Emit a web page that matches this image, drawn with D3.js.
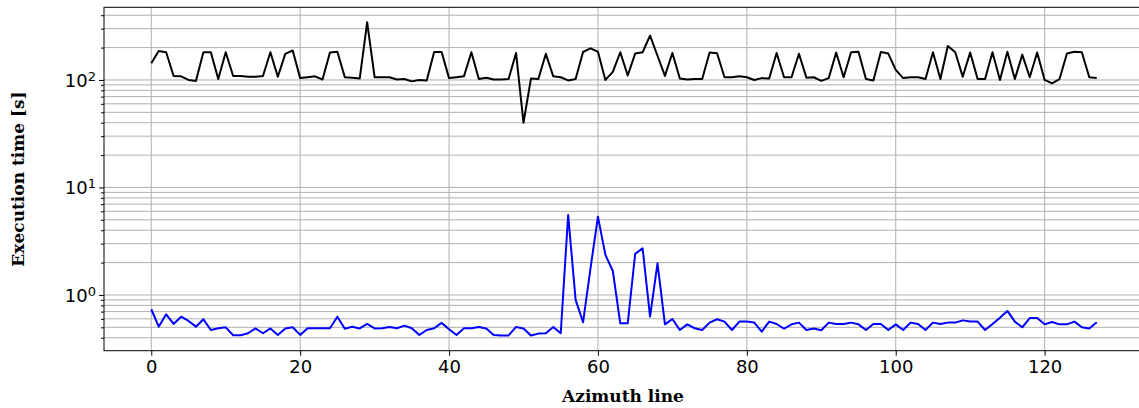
<!DOCTYPE html>
<html>
<head>
<meta charset="utf-8">
<script src="https://cdn.jsdelivr.net/npm/d3@7"></script>
<style>
    body { margin: 0; background: #fff; }
    svg { display: block; }
    .tick text { font-family: "DejaVu Sans", sans-serif; }
</style>
</head>
<body>
<svg id="chart" width="1139" height="408"></svg>
<script>
// Azimuth line index 0..127
var azimuth = d3.range(0, 128);

// execution time, slow run (black)
var timeSlow = [
    143, 186, 181, 109, 108, 100, 98, 181, 181, 102,
    181, 109, 109, 107, 107, 109, 181, 107, 175, 188,
    104, 106, 108, 101, 180, 183, 106, 105, 103, 344,
    106, 106, 106, 101, 102, 97, 100, 99, 182, 182,
    104, 106, 108, 181, 102, 105, 101, 101, 102, 178,
    40, 103, 102, 175, 108, 106, 99, 102, 182, 197,
    183, 100, 119, 181, 110, 176, 181, 258, 168, 109,
    178, 103, 101, 102, 102, 180, 177, 106, 106, 108,
    106, 100, 104, 103, 178, 106, 106, 175, 105, 106,
    98, 104, 180, 106, 181, 183, 102, 99, 182, 176,
    124, 104, 106, 106, 102, 181, 102, 207, 181, 107,
    180, 102, 102, 181, 100, 183, 102, 172, 106, 180,
    100, 93, 102, 176, 183, 181, 106, 104
];

// execution time, fast run (blue)
var timeFast = [
    0.736, 0.507, 0.661, 0.537, 0.628, 0.573, 0.507, 0.594, 0.472, 0.49,
    0.5, 0.422, 0.422, 0.44, 0.488, 0.44, 0.488, 0.425, 0.488, 0.5,
    0.425, 0.49, 0.49, 0.49, 0.49, 0.628, 0.485, 0.507, 0.488, 0.537,
    0.488, 0.49, 0.504, 0.49, 0.518, 0.49, 0.424, 0.472, 0.49, 0.55,
    0.48, 0.424, 0.49, 0.49, 0.504, 0.488, 0.424, 0.42, 0.42, 0.504,
    0.488, 0.42, 0.437, 0.44, 0.504, 0.44, 5.55, 0.9, 0.557, 1.77,
    5.35, 2.36, 1.67, 0.545, 0.545, 2.41, 2.72, 0.63, 1.97, 0.533,
    0.598, 0.472, 0.533, 0.49, 0.472, 0.553, 0.594, 0.565, 0.472, 0.565,
    0.565, 0.553, 0.456, 0.565, 0.537, 0.485, 0.533, 0.553, 0.472, 0.488,
    0.47, 0.553, 0.537, 0.537, 0.553, 0.533, 0.472, 0.537, 0.537, 0.472,
    0.533, 0.472, 0.553, 0.537, 0.472, 0.553, 0.537, 0.553, 0.553, 0.58,
    0.565, 0.565, 0.472, 0.537, 0.615, 0.71, 0.565, 0.5, 0.61, 0.61,
    0.533, 0.56, 0.533, 0.533, 0.565, 0.5, 0.488, 0.557
];

var xTicks = [0, 20, 40, 60, 80, 100, 120];
var yMajorTicks = [1, 10, 100];
var xLabel = "Azimuth line";
var yLabel = "Execution time [s]";

const plotLeft = 104, plotRight = 1144, plotTop = 7.3, plotBottom = 350.7;

var svg = d3.select("#chart");

var xScale = d3.scaleLinear()
    .domain([-6.35, 133.35])
    .range([plotLeft, plotRight]);

var yScale = d3.scaleLog()
    .domain([0.303, 474])
    .range([plotBottom, plotTop]);

// minor ticks on the log axis: 2..9 times each decade
var yMinorTicks = [];
[-1, 0, 1, 2].forEach(e => {
    for (var k = 2; k <= 9; k++) {
        var v = k * Math.pow(10, e);
        if (v >= yScale.domain()[0] && v <= yScale.domain()[1]) yMinorTicks.push(v);
    }
});

var plot = svg.append("g");

// grid
plot.append("g")
    .selectAll("line")
    .data(yMajorTicks.concat(yMinorTicks))
    .enter()
    .append("line")
    .attr("x1", plotLeft).attr("x2", plotRight)
    .attr("y1", d => yScale(d)).attr("y2", d => yScale(d))
    .attr("stroke", "#b0b0b0")
    .attr("stroke-width", 1);

plot.append("g")
    .selectAll("line")
    .data(xTicks)
    .enter()
    .append("line")
    .attr("x1", d => xScale(d)).attr("x2", d => xScale(d))
    .attr("y1", plotTop).attr("y2", plotBottom)
    .attr("stroke", "#b0b0b0")
    .attr("stroke-width", 1);

// series
var line = d3.line()
    .x((d, i) => xScale(azimuth[i]))
    .y(d => yScale(d));

plot.append("path")
    .datum(timeSlow)
    .attr("fill", "none")
    .attr("stroke", "#000")
    .attr("stroke-width", 2)
    .attr("stroke-linejoin", "round")
    .attr("d", line);

plot.append("path")
    .datum(timeFast)
    .attr("fill", "none")
    .attr("stroke", "#0000ff")
    .attr("stroke-width", 2)
    .attr("stroke-linejoin", "round")
    .attr("d", line);

// frame
svg.append("rect")
    .attr("x", plotLeft).attr("y", plotTop)
    .attr("width", plotRight - plotLeft).attr("height", plotBottom - plotTop)
    .attr("fill", "none")
    .attr("stroke", "#000")
    .attr("stroke-width", 1);

// x axis
var xAxis = svg.append("g")
    .attr("transform", "translate(0," + plotBottom + ")")
    .call(d3.axisBottom(xScale).tickValues(xTicks).tickSize(5).tickPadding(5).tickFormat(d3.format("d")));
xAxis.select(".domain").remove();
xAxis.selectAll(".tick text").attr("font-size", 18).attr("fill", "#000");

// y axis, major
var yAxis = svg.append("g")
    .attr("transform", "translate(" + plotLeft + ",0)")
    .call(d3.axisLeft(yScale).tickValues(yMajorTicks).tickSize(5).tickPadding(5).tickFormat(""));
yAxis.select(".domain").remove();
yAxis.selectAll(".tick").each(function (d) {
    var t = d3.select(this).append("text")
        .attr("x", -8)
        .attr("dy", "0.35em")
        .attr("text-anchor", "end")
        .attr("font-size", 18)
        .attr("fill", "#000");
    t.append("tspan").text("10");
    t.append("tspan")
        .attr("dy", "-0.45em")
        .attr("font-size", 13)
        .text(Math.round(Math.log10(d)));
});

// y axis, minor
var yMinor = svg.append("g")
    .attr("transform", "translate(" + plotLeft + ",0)")
    .call(d3.axisLeft(yScale).tickValues(yMinorTicks).tickSize(3).tickFormat(""));
yMinor.select(".domain").remove();

// axis titles
svg.append("text")
    .attr("x", 623)
    .attr("y", 402)
    .attr("text-anchor", "middle")
    .attr("font-family", "DejaVu Serif, serif")
    .attr("font-weight", "bold")
    .attr("font-size", 17)
    .text(xLabel);

svg.append("text")
    .attr("transform", "translate(24,179) rotate(-90)")
    .attr("text-anchor", "middle")
    .attr("font-family", "DejaVu Serif, serif")
    .attr("font-weight", "bold")
    .attr("font-size", 17)
    .text(yLabel);
</script>
</body>
</html>
